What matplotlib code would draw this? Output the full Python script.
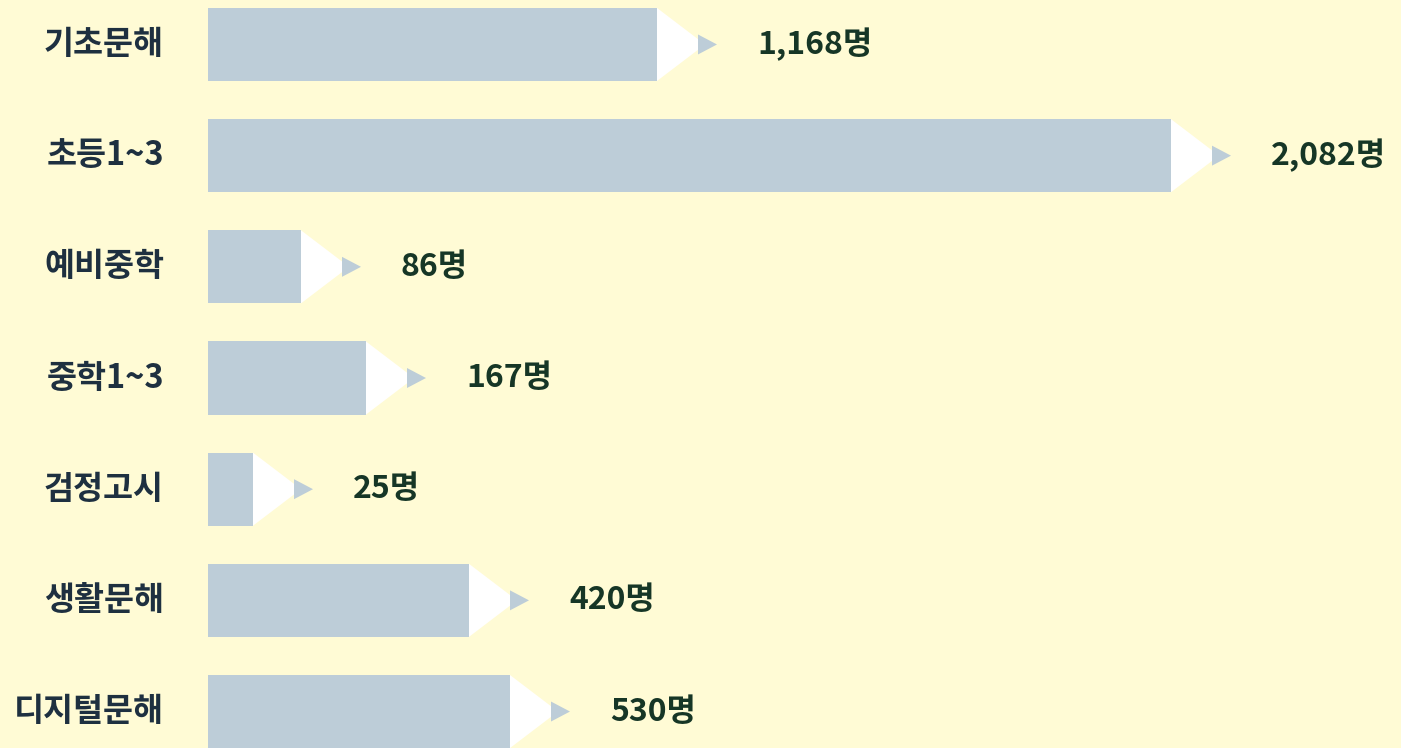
import matplotlib.pyplot as plt
from matplotlib.patches import Polygon

plt.rcParams['font.family'] = ['Noto Sans CJK KR', 'DejaVu Sans']

# Data
categories = ["기초문해", "초등1~3", "예비중학", "중학1~3", "검정고시", "생활문해", "디지털문해"]
counts = [1168, 2082, 86, 167, 25, 420, 530]
# bar lengths as drawn in the original (not proportional to counts)
bar_lengths = [449, 963, 93, 158, 45, 261, 302]
value_labels = [f"{c:,}명" for c in counts]

bg_color = "#fffbd5"
bar_color = "#bdcdd8"
label_color = "#1e3040"
value_color = "#163626"

fig = plt.figure(figsize=(14.01, 7.48), dpi=100, facecolor=bg_color)
ax = fig.add_axes([0, 0, 1, 1])
ax.set_facecolor(bg_color)

# x axis in pixel-like units, bars start at 0
ax.set_xlim(-208, 1193)
ax.set_ylim(6.328, -0.40)

bar_h = 0.657
ypos = list(range(len(categories)))
ax.barh(ypos, bar_lengths, height=bar_h, left=0, color=bar_color, zorder=2)

px_per_unit = 111.17
for y, length, cat, lab in zip(ypos, bar_lengths, categories, value_labels):
    # white arrow head after each bar
    white = Polygon([(length, y - bar_h / 2), (length, y + bar_h / 2), (length + 48, y)],
                    closed=True, facecolor="white", edgecolor="none", zorder=3)
    ax.add_patch(white)
    # small grey triangle marker
    th = 10 / px_per_unit
    small = Polygon([(length + 41, y - th), (length + 41, y + th), (length + 60, y)],
                    closed=True, facecolor=bar_color, edgecolor="none", zorder=4)
    ax.add_patch(small)
    ax.text(-44, y, cat, ha="right", va="center", fontsize=23.5, fontweight="black",
            color=label_color)
    ax.text(length + 100, y, lab, ha="left", va="center", fontsize=23, fontweight="black",
            color=value_color)

ax.axis("off")

plt.savefig("out.png", dpi=100, facecolor=bg_color)
